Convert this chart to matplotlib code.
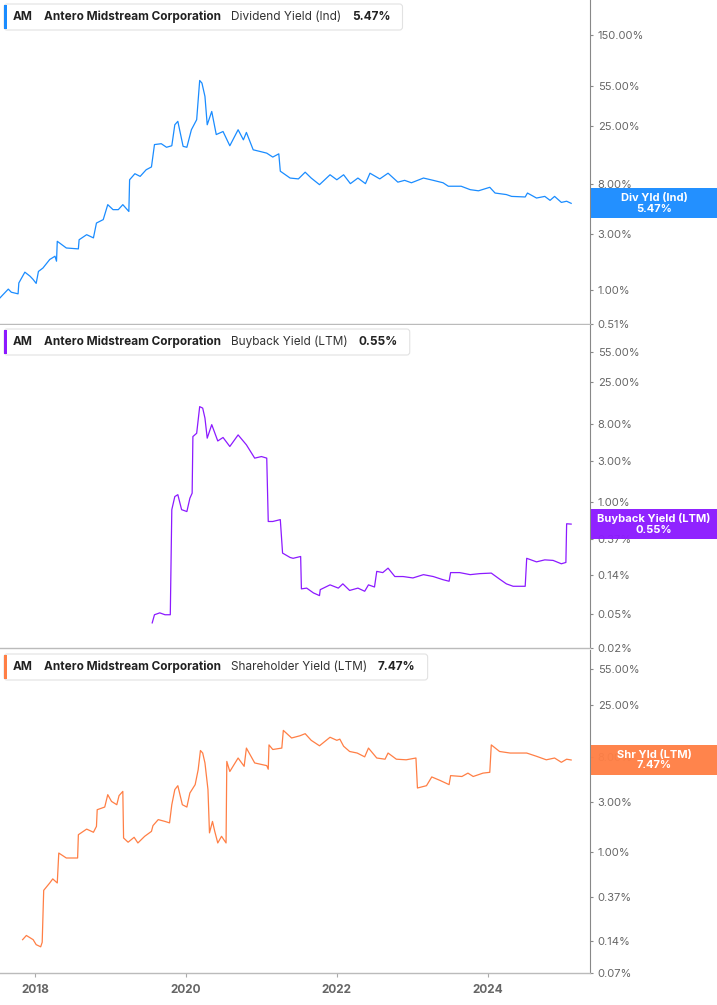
import matplotlib
matplotlib.use("Agg")
import matplotlib.pyplot as plt
from matplotlib.patches import Rectangle, FancyBboxPatch
from matplotlib.transforms import IdentityTransform
from matplotlib.ticker import FixedLocator, FuncFormatter, NullLocator

plt.rcParams["font.family"] = ["Inter", "DejaVu Sans"]

# =========================================================
# DATA  (decimal year, yield in %)
# =========================================================

div_years = [2017.53, 2017.64, 2017.68, 2017.77, 2017.78, 2017.86, 2017.93, 2017.97, 2018.01, 2018.04,
             2018.10, 2018.19, 2018.26, 2018.28, 2018.29, 2018.41, 2018.57, 2018.58, 2018.68, 2018.77,
             2018.81, 2018.90, 2018.96, 2019.03, 2019.10, 2019.16, 2019.24, 2019.25, 2019.32, 2019.39,
             2019.47, 2019.54, 2019.58, 2019.67, 2019.74, 2019.81, 2019.85, 2019.89, 2019.96, 2020.01,
             2020.07, 2020.14, 2020.18, 2020.21, 2020.25, 2020.28, 2020.34, 2020.40, 2020.49, 2020.58,
             2020.69, 2020.76, 2020.80, 2020.89, 2020.98, 2021.07, 2021.15, 2021.23, 2021.25, 2021.38,
             2021.49, 2021.58, 2021.66, 2021.77, 2021.91, 2022.00, 2022.09, 2022.18, 2022.28, 2022.38,
             2022.44, 2022.57, 2022.68, 2022.81, 2022.90, 2022.99, 2023.15, 2023.28, 2023.41, 2023.48,
             2023.65, 2023.77, 2023.88, 2024.03, 2024.10, 2024.25, 2024.32, 2024.50, 2024.53, 2024.65,
             2024.76, 2024.83, 2024.89, 2024.98, 2025.05, 2025.11]
div_vals = [0.85, 1.01, 0.95, 0.92, 1.14, 1.41, 1.30, 1.22, 1.13, 1.43,
            1.53, 1.81, 1.93, 1.75, 2.59, 2.27, 2.23, 2.67, 2.95, 2.77,
            3.71, 3.97, 5.33, 4.83, 4.83, 5.33, 4.66, 8.7, 9.8, 9.3,
            10.6, 11.2, 17.4, 17.7, 16.5, 17.0, 25.7, 27.5, 16.8, 16.5,
            23.3, 28.4, 61.5, 58.4, 44.9, 25.7, 33.4, 21.2, 22.5, 17.0,
            23.3, 19.1, 22.1, 15.7, 15.2, 14.7, 13.6, 14.5, 10.3, 9.0,
            8.85, 10.1, 9.0, 7.9, 9.6, 8.7, 9.6, 8.06, 9.0, 8.06,
            9.9, 8.85, 9.9, 8.3, 8.6, 8.2, 9.0, 8.6, 8.2, 7.66,
            7.66, 7.16, 7.0, 7.5, 6.7, 6.5, 6.27, 6.2, 6.7, 6.07,
            6.27, 5.8, 6.27, 5.57, 5.7, 5.47]

bb_years = [2019.55, 2019.58, 2019.65, 2019.72, 2019.79, 2019.81, 2019.85, 2019.89, 2019.94, 2020.01,
            2020.05, 2020.08, 2020.09, 2020.14, 2020.18, 2020.22, 2020.25, 2020.28, 2020.34, 2020.42,
            2020.49, 2020.58, 2020.69, 2020.80, 2020.91, 2021.00, 2021.07, 2021.09, 2021.15, 2021.25,
            2021.28, 2021.38, 2021.42, 2021.52, 2021.53, 2021.60, 2021.69, 2021.77, 2021.78, 2021.91,
            2022.02, 2022.08, 2022.17, 2022.28, 2022.37, 2022.42, 2022.50, 2022.53, 2022.61, 2022.68,
            2022.77, 2022.88, 2023.01, 2023.15, 2023.28, 2023.41, 2023.49, 2023.51, 2023.63, 2023.77,
            2023.90, 2024.05, 2024.16, 2024.25, 2024.34, 2024.50, 2024.52, 2024.65, 2024.76, 2024.87,
            2024.98, 2025.04, 2025.05, 2025.11]
bb_vals = [0.039, 0.0485, 0.051, 0.0485, 0.0485, 0.81, 1.15, 1.21, 0.81, 0.77,
           1.10, 1.26, 5.74, 6.27, 12.8, 12.3, 9.4, 5.5, 7.9, 5.1,
           5.6, 4.4, 6.0, 4.6, 3.22, 3.36, 3.22, 0.59, 0.59, 0.62,
           0.253, 0.225, 0.22, 0.231, 0.097, 0.099, 0.087, 0.081, 0.095, 0.108,
           0.099, 0.111, 0.093, 0.099, 0.091, 0.108, 0.102, 0.155, 0.15, 0.169,
           0.135, 0.135, 0.13, 0.142, 0.135, 0.124, 0.119, 0.15, 0.15, 0.142,
           0.146, 0.148, 0.126, 0.111, 0.104, 0.104, 0.22, 0.20, 0.211, 0.208,
           0.19, 0.197, 0.555, 0.55]

shr_years = [2017.83, 2017.88, 2017.97, 2018.01, 2018.07, 2018.09, 2018.11, 2018.19, 2018.23, 2018.29,
             2018.31, 2018.41, 2018.56, 2018.57, 2018.68, 2018.77, 2018.81, 2018.82, 2018.92, 2018.96,
             2019.01, 2019.08, 2019.11, 2019.16, 2019.17, 2019.23, 2019.31, 2019.36, 2019.45, 2019.54,
             2019.56, 2019.63, 2019.72, 2019.78, 2019.81, 2019.85, 2019.89, 2019.95, 2020.01, 2020.05,
             2020.12, 2020.16, 2020.19, 2020.22, 2020.25, 2020.29, 2020.31, 2020.35, 2020.38, 2020.42,
             2020.47, 2020.53, 2020.54, 2020.58, 2020.69, 2020.77, 2020.80, 2020.91, 2021.07, 2021.09,
             2021.10, 2021.15, 2021.27, 2021.29, 2021.40, 2021.51, 2021.58, 2021.66, 2021.77, 2021.91,
             2022.00, 2022.04, 2022.09, 2022.17, 2022.27, 2022.37, 2022.42, 2022.53, 2022.64, 2022.68,
             2022.79, 2022.92, 2023.05, 2023.07, 2023.19, 2023.26, 2023.37, 2023.49, 2023.51, 2023.66,
             2023.74, 2023.81, 2023.94, 2024.03, 2024.05, 2024.16, 2024.30, 2024.52, 2024.65, 2024.78,
             2024.89, 2024.98, 2025.05, 2025.11]
shr_vals = [0.145, 0.159, 0.145, 0.13, 0.124, 0.137, 0.428, 0.503, 0.55, 0.503,
            0.97, 0.87, 0.87, 1.45, 1.64, 1.53, 1.74, 2.51, 2.66, 3.49,
            3.01, 2.8, 3.42, 3.75, 1.35, 1.23, 1.37, 1.21, 1.40, 1.56,
            1.77, 2.02, 1.94, 1.88, 2.80, 3.9, 4.25, 2.80, 2.66, 3.62,
            4.35, 6.04, 9.2, 8.7, 7.0, 3.9, 1.51, 1.94, 1.56, 1.21,
            1.40, 1.21, 7.24, 5.8, 7.8, 6.5, 9.7, 7.0, 6.6, 6.1,
            10.4, 9.4, 9.7, 14.3, 12.1, 12.7, 13.3, 11.5, 10.2, 12.3,
            11.5, 11.8, 10.1, 9.0, 8.7, 8.0, 9.7, 7.8, 7.6, 8.7,
            7.6, 7.5, 7.8, 4.04, 4.25, 5.15, 4.77, 4.35, 5.3, 5.2,
            5.6, 5.2, 5.6, 5.7, 10.4, 9.0, 8.7, 8.7, 8.1, 7.5,
            7.8, 7.1, 7.6, 7.47]

div_ticks = [150, 55, 25, 8, 3, 1, 0.51]
bb_ticks = [55, 25, 8, 3, 1, 0.37, 0.14, 0.05, 0.02]
shr_ticks = [55, 25, 8, 3, 1, 0.37, 0.14, 0.07]

year_ticks = [2018, 2020, 2022, 2024]

# =========================================================
# LAYOUT
# =========================================================

W, H = 717, 1005
PLOT_RIGHT = 590

panels = [
    dict(x=div_years, y=div_vals, color="#1a8cff", ylim=(0.508, 300), ticks=div_ticks,
         top=0, bottom=324, metric="Dividend Yield (Ind)", last="5.47%", box="Div Yld (Ind)"),
    dict(x=bb_years, y=bb_vals, color="#8c1aff", ylim=(0.0199, 114), ticks=bb_ticks,
         top=325, bottom=648, metric="Buyback Yield (LTM)", last="0.55%", box="Buyback Yield (LTM)"),
    dict(x=shr_years, y=shr_vals, color="#ff7f45", ylim=(0.0698, 83.4), ticks=shr_ticks,
         top=650, bottom=973, metric="Shareholder Yield (LTM)", last="7.47%", box="Shr Yld (LTM)"),
]

fig = plt.figure(figsize=(W / 100, H / 100), dpi=100)
renderer = fig.canvas.get_renderer()


def pct(v, pos):
    return f"{v:.2f}%"


def put_text(x_px, y_px, s, weight="normal", color="#222"):
    t = fig.text(x_px / W, 1 - y_px / H, s, fontsize=8.5, fontweight=weight,
                 color=color, ha="left", va="center", zorder=6)
    return t.get_window_extent(renderer).x1


for i, p in enumerate(panels):
    ax = fig.add_axes([0, 1 - p["bottom"] / H, PLOT_RIGHT / W, (p["bottom"] - p["top"]) / H])
    ax.plot(p["x"], p["y"], color=p["color"], lw=0.9)
    ax.set_yscale("log")
    ax.set_ylim(*p["ylim"])
    ax.set_xlim(2017.53, 2025.36)

    ax.yaxis.tick_right()
    ax.yaxis.set_major_locator(FixedLocator(p["ticks"]))
    ax.yaxis.set_minor_locator(NullLocator())
    ax.yaxis.set_major_formatter(FuncFormatter(pct))
    ax.tick_params(axis="y", length=2.5, width=0.8, color="#888",
                   labelsize=8, labelcolor="#666", pad=3)

    for s in ["left", "top"]:
        ax.spines[s].set_visible(False)
    ax.spines["right"].set_color("#888")
    ax.spines["bottom"].set_color("#bbb")
    ax.spines["bottom"].set_linewidth(1.0)

    if i < 2:
        ax.set_xticks([])
    else:
        ax.set_xticks(year_ticks)
        ax.set_xticklabels([str(y) for y in year_ticks], fontweight="bold")
        ax.tick_params(axis="x", length=3, width=0.8, color="#aaa",
                       labelsize=8.5, labelcolor="#666", pad=5)

    # legend box
    ty = p["top"] + 17
    x = put_text(13, ty, "AM", weight="bold")
    x = put_text(x + 11, ty, "Antero Midstream Corporation", weight="bold")
    x = put_text(x + 10, ty, p["metric"], color="#333")
    x = put_text(x + 11, ty, p["last"], weight="bold")
    box_h = 26
    y0 = H - (p["top"] + 4 + box_h)
    fig.add_artist(FancyBboxPatch((4, y0), x + 12 - 4, box_h,
                                  boxstyle="round,pad=0,rounding_size=3",
                                  transform=IdentityTransform(), facecolor="white",
                                  edgecolor="#e2e2e2", lw=0.8, zorder=4))
    fig.add_artist(Rectangle((4, y0 + 1), 3, box_h - 2, transform=IdentityTransform(),
                             facecolor=p["color"], edgecolor="none", zorder=5))

    # last value box on the right axis (tick labels faintly visible behind it)
    yc = ax.transData.transform((p["x"][-1], p["y"][-1]))[1]
    fig.add_artist(Rectangle((PLOT_RIGHT + 1, yc - 15), W - PLOT_RIGHT, 30,
                             transform=IdentityTransform(), facecolor=p["color"],
                             edgecolor="none", alpha=0.96, zorder=5))
    fig.text((PLOT_RIGHT + 1 + W) / 2 / W, yc / H, p["box"] + "\n" + f"{p['y'][-1]:.2f}%",
             fontsize=8, fontweight="bold", color="white", ha="center", va="center",
             linespacing=1.05, zorder=6)

fig.savefig("out.png", dpi=100)
